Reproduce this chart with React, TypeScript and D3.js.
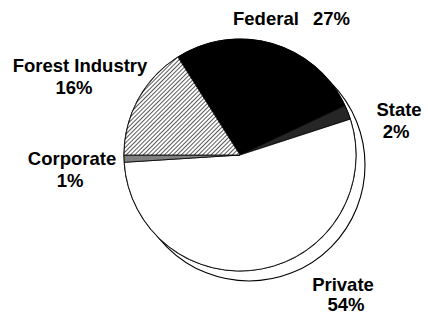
import React from 'react';
import * as d3 from 'd3';

const categories = ['Federal', 'State', 'Private', 'Corporate', 'Forest Industry'];
const shares = [27, 2, 54, 1, 16];
const shareLabels = ['27%', '2%', '54%', '1%', '16%'];

const fills = ['#000000', '#262626', '#ffffff', '#808080', 'url(#hatch)'];

// where each label sits: name line and percent line
const labelPos = [
    { nx: 233, ny: 25, px: 313, py: 25, anchor: 'start' },
    { nx: 399, ny: 116, px: 396, py: 138, anchor: 'middle' },
    { nx: 343, ny: 291, px: 346, py: 311, anchor: 'middle' },
    { nx: 72, ny: 165, px: 70, py: 187, anchor: 'middle' },
    { nx: 80, ny: 72, px: 74, py: 94, anchor: 'middle' },
];

const width = 428;
const height = 314;
const cx = 240;
const cy = 155;
const radius = 116;
const shadow = { dx: 9, dy: 10 };

export default function App() {
    const start = (-32.4 * Math.PI) / 180;
    const pie = d3
        .pie<number>()
        .sort(null)
        .startAngle(start)
        .endAngle(start + 2 * Math.PI);
    const arcs = pie(shares);
    const arc = d3.arc<d3.PieArcDatum<number>>().innerRadius(0).outerRadius(radius);

    return (
        <svg
            width={width}
            height={height}
            style={{ position: 'absolute', left: 0, top: 0, background: '#fff' }}
        >
            <defs>
                <pattern id="hatch" width="3" height="3" patternUnits="userSpaceOnUse" patternTransform="rotate(45)">
                    <rect width="3" height="3" fill="#ffffff" />
                    <line x1="0.5" y1="0" x2="0.5" y2="3" stroke="#5a5a5a" strokeWidth="1" />
                </pattern>
            </defs>
            {/* drop shadow behind the pie */}
            <circle
                cx={cx + shadow.dx}
                cy={cy + shadow.dy}
                r={radius}
                fill="#fff"
                stroke="#000"
                strokeWidth="1.1"
            />
            <g transform={`translate(${cx},${cy})`}>
                <circle r={radius} fill="#fff" stroke="#000" strokeWidth="1.1" />
                {arcs.map((a, i) => (
                    <path
                        key={categories[i]}
                        d={arc(a) || ''}
                        fill={fills[i]}
                        stroke="#000"
                        strokeWidth="0.8"
                        strokeLinejoin="round"
                    />
                ))}
            </g>
            <g fontFamily="'Liberation Sans', Arial, sans-serif" fontWeight="bold" fontSize="18.5" fill="#000">
                {labelPos.map((p, i) => (
                    <g key={categories[i]}>
                        <text x={p.nx} y={p.ny} textAnchor={p.anchor}>
                            {categories[i]}
                        </text>
                        <text x={p.px} y={p.py} textAnchor={p.anchor}>
                            {shareLabels[i]}
                        </text>
                    </g>
                ))}
            </g>
        </svg>
    );
}
